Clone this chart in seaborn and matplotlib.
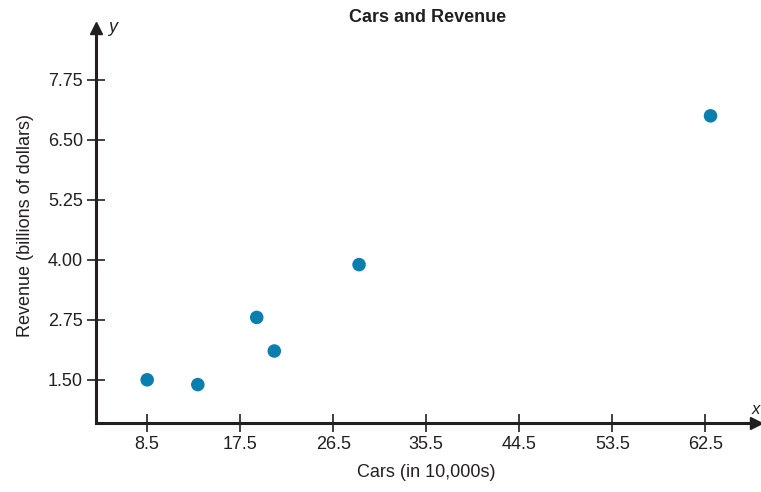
import matplotlib
matplotlib.use("Agg")
import matplotlib.pyplot as plt
import seaborn as sns
import pandas as pd

# data
cars = [63.0, 29.0, 20.8, 19.1, 13.4, 8.5]
revenue = [7.0, 3.9, 2.1, 2.8, 1.4, 1.5]
x_ticks = [8.5, 17.5, 26.5, 35.5, 44.5, 53.5, 62.5]
y_ticks = [1.50, 2.75, 4.00, 5.25, 6.50, 7.75]

df = pd.DataFrame({"Cars": cars, "Revenue": revenue})

sns.set_style("white")
plt.rcParams["font.family"] = ["Liberation Sans", "DejaVu Sans"]

fig = plt.figure(figsize=(7.61, 4.92), dpi=100)
ax = fig.add_axes([96 / 761, 1 - 423 / 492, (756 - 96) / 761, (423 - 28) / 492])

sns.scatterplot(data=df, x="Cars", y="Revenue", ax=ax, color="#0a7fae",
                s=95, edgecolor="none", zorder=3)

ax.set_xlim(3.55, 67.4)
ax.set_ylim(0.6, 8.83)
ax.set_xticks(x_ticks)
ax.set_xticklabels([str(v) for v in x_ticks])
ax.set_yticks(y_ticks)
ax.set_yticklabels([f"{v:.2f}" for v in y_ticks])

for s in ["top", "right"]:
    ax.spines[s].set_visible(False)
for s in ["left", "bottom"]:
    ax.spines[s].set_linewidth(2.2)
    ax.spines[s].set_color("#231f20")

ax.tick_params(bottom=True, left=True, direction="inout", length=13, width=1.2,
               colors="#231f20", labelsize=13, pad=3)

# arrow heads
ax.plot(1, 0, ">", transform=ax.transAxes, color="#231f20", markersize=9, clip_on=False)
ax.plot(0, 1, "^", transform=ax.transAxes, color="#231f20", markersize=9, clip_on=False)
fig.text(760 / 761, 1 - 410 / 492, "x", ha="right", va="center", fontsize=12,
         style="italic", color="#231f20")
ax.text(0.018, 0.99, "y", transform=ax.transAxes, fontsize=13, style="italic", color="#231f20")

ax.set_xlabel("Cars (in 10,000s)", fontsize=13, color="#231f20", labelpad=8)
ax.set_ylabel("Revenue (billions of dollars)", fontsize=13, color="#231f20", labelpad=10)
fig.text(428 / 761, 1 - 18 / 492, "Cars and Revenue", ha="center", va="center",
         fontsize=13, fontweight="bold", color="#231f20")

plt.savefig("out.png", dpi=100)
